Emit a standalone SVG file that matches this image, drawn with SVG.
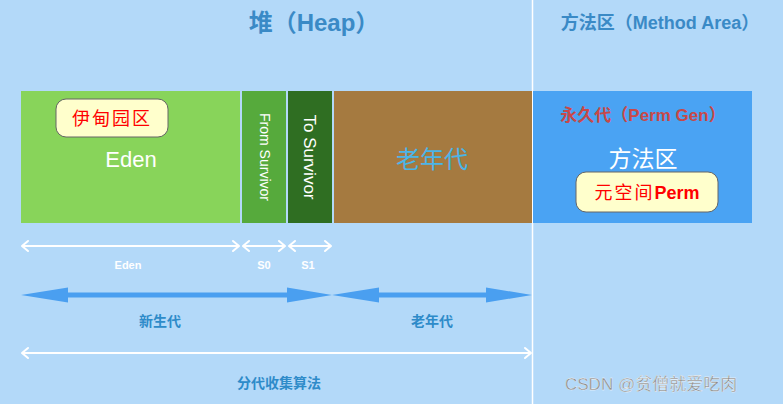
<svg xmlns="http://www.w3.org/2000/svg" width="783" height="404" viewBox="0 0 783 404">
<defs>
<style>
.t{font-family:"Liberation Sans","Noto Sans CJK SC",sans-serif;text-anchor:middle}
.title{font-size:24px;font-weight:bold;fill:#3a8ac6}
.sub{font-size:18px;font-weight:bold;fill:#3a8ac6}
.box{stroke:none}
.tag{fill:#ffffcc;stroke:#666;stroke-width:1}
.red{fill:#ff0000;font-size:18px}
.wl{stroke:#fff;stroke-width:2;fill:none}
.wh{stroke:#fff;stroke-width:2;fill:none;stroke-linecap:round;stroke-linejoin:round}
.bl{fill:#2e8bc9;font-size:14px;font-weight:bold}
.wlab{fill:#fff;font-size:11px;font-weight:bold}
</style>
</defs>
<rect width="783" height="404" fill="#b3d9f9"/>
<line x1="532.5" y1="0" x2="532.5" y2="404" stroke="#fff" stroke-width="1.5"/>
<text class="t title" x="314" y="31">堆（Heap）</text>
<text class="t sub" x="660" y="29">方法区（Method Area）</text>

<g id="eden">
<rect class="box" x="21" y="91" width="219" height="132" fill="#88d45a"/>
<text class="t" x="131" y="167" font-size="22" fill="#fff">Eden</text>
</g>
<g id="eden-tag">
<rect class="tag" x="56" y="99" width="112" height="38" rx="10"/>
<text class="t red" x="112" y="125" letter-spacing="2">伊甸园区</text>
</g>
<g id="from-survivor">
<rect class="box" x="242" y="91" width="44" height="132" fill="#56aa3c"/>
<text class="t" transform="translate(259.5 157) rotate(90)" font-size="14" fill="#fff">From Survivor</text>
</g>
<g id="to-survivor">
<rect class="box" x="288" y="91" width="44" height="132" fill="#2f6e22"/>
<text class="t" transform="translate(304 157) rotate(90)" font-size="17" fill="#fff">To Survivor</text>
</g>
<g id="old-gen">
<rect class="box" x="334" y="91" width="198" height="132" fill="#a57a40"/>
<text class="t" x="432" y="168" font-size="24" fill="#4ab5e8">老年代</text>
</g>
<g id="method-area">
<rect class="box" x="533" y="91" width="219" height="132" fill="#4aa3f3"/>
<text class="t" x="643" y="121" font-size="17" font-weight="bold" fill="#c84848">永久代（Perm Gen）</text>
<text class="t" x="643" y="167" font-size="23" fill="#fff">方法区</text>
</g>
<g id="meta-tag">
<rect class="tag" x="576" y="172" width="142" height="40" rx="10"/>
<text class="t red" x="647" y="199"><tspan letter-spacing="2">元空间</tspan><tspan font-weight="bold">Perm</tspan></text>
</g>

<g id="connectors">
<line class="wl" x1="22" y1="246" x2="239" y2="246"/>
<polyline class="wh" points="28,241 22,246 28,251"/>
<polyline class="wh" points="233,241 239,246 233,251"/>
<line class="wl" x1="243" y1="246" x2="285" y2="246"/>
<polyline class="wh" points="249,241 243,246 249,251"/>
<polyline class="wh" points="279,241 285,246 279,251"/>
<line class="wl" x1="289" y1="246" x2="331" y2="246"/>
<polyline class="wh" points="295,241 289,246 295,251"/>
<polyline class="wh" points="325,241 331,246 325,251"/>

<g fill="#4a9ff0">
<rect x="66" y="292.5" width="223" height="5"/>
<polygon points="21,295 68,287.5 68,302.5"/>
<polygon points="332,295 287,287.5 287,302.5"/>
<rect x="377" y="292.5" width="111" height="5"/>
<polygon points="332,295 379,287.5 379,302.5"/>
<polygon points="532,295 486,287.5 486,302.5"/>
</g>

<line class="wl" x1="22" y1="353" x2="531" y2="353"/>
<polyline class="wh" points="28,348 22,353 28,358"/>
<polyline class="wh" points="525,348 531,353 525,358"/>
</g>

<text class="t wlab" x="128" y="269">Eden</text>
<text class="t wlab" x="264" y="269">S0</text>
<text class="t wlab" x="308" y="269">S1</text>
<text class="t bl" x="160" y="326">新生代</text>
<text class="t bl" x="432" y="326">老年代</text>
<text class="t bl" x="279" y="388">分代收集算法</text>
<text x="565" y="390" font-family="'Liberation Sans','Noto Sans CJK SC',sans-serif" font-size="17" fill="#8a8a8a" stroke="#fff" stroke-width="0.3">CSDN @贫僧就爱吃肉</text>
</svg>
